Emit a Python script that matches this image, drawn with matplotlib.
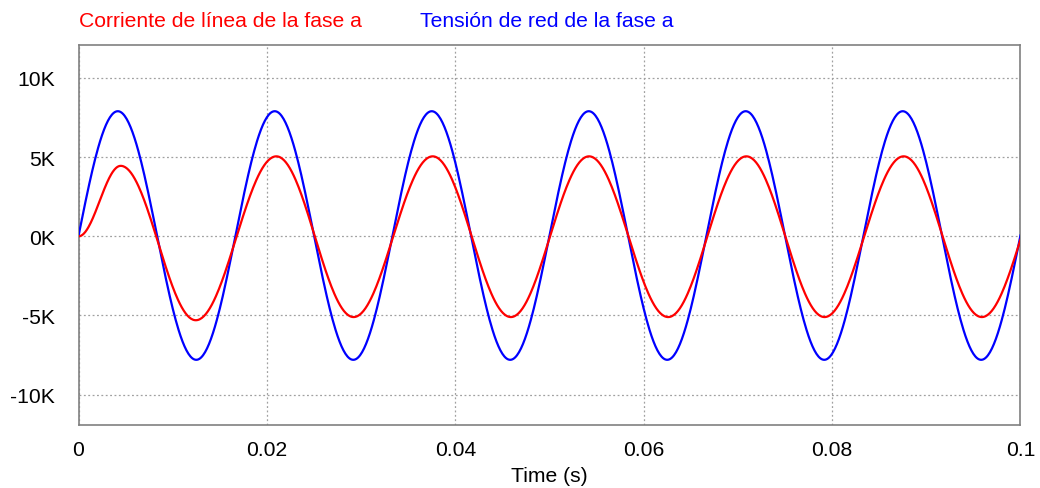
import numpy as np
import matplotlib
matplotlib.use("Agg")
import matplotlib.pyplot as plt

# ---- data (time in s, values in K) ----
# Extrema (peaks / troughs) of each waveform; first blue point is the
# trough just before t=0 so the wave starts at 0 with full slope.
volt_ext_t = [-0.00417, 0.00417, 0.0125, 0.02083, 0.02917, 0.0375, 0.04583,
              0.05417, 0.0625, 0.07083, 0.07917, 0.0875, 0.09583, 0.10417]
volt_ext_v = [-7.85, 7.9, -7.8, 7.9, -7.8, 7.9, -7.8,
              7.9, -7.8, 7.9, -7.8, 7.9, -7.8, 7.9]

curr_ext_t = [0.0, 0.00448, 0.01245, 0.0210, 0.0292, 0.0376, 0.0459,
              0.0542, 0.0626, 0.0709, 0.0792, 0.0876, 0.0959, 0.1043]
curr_ext_v = [0.0, 4.45, -5.30, 5.05, -5.10, 5.05, -5.10,
              5.05, -5.10, 5.05, -5.10, 5.05, -5.10, 5.05]

x_ticks = [0, 0.02, 0.04, 0.06, 0.08, 0.1]
x_tick_labels = ["0", "0.02", "0.04", "0.06", "0.08", "0.1"]
y_ticks = [-10, -5, 0, 5, 10]
y_tick_labels = ["-10K", "-5K", "0K", "5K", "10K"]

label_curr = "Corriente de línea de la fase a"
label_volt = "Tensión de red de la fase a"
x_label = "Time (s)"


def half_cosine(ext_t, ext_v, n=80):
    ts, vs = [], []
    for i in range(len(ext_t) - 1):
        t0, t1 = ext_t[i], ext_t[i + 1]
        a, b = ext_v[i], ext_v[i + 1]
        u = np.linspace(0, 1, n, endpoint=False)
        ts.append(t0 + (t1 - t0) * u)
        vs.append((a + b) / 2 + (a - b) / 2 * np.cos(np.pi * u))
    t = np.concatenate(ts)
    v = np.concatenate(vs)
    m = (t >= 0) & (t <= 0.1)
    return t[m], v[m]


plt.rcParams['font.family'] = ['Liberation Sans', 'DejaVu Sans']
FS = 15.2

fig = plt.figure(figsize=(10.4, 4.89), dpi=100)
ax = fig.add_axes([0.0755, 0.1294, 0.9057, 0.7771])

tv, vv = half_cosine(volt_ext_t, volt_ext_v)
tc, vc = half_cosine(curr_ext_t, curr_ext_v)
ax.plot(tv, vv, color="#0000ff", lw=1.6, zorder=3)
ax.plot(tc, vc, color="#ff0000", lw=1.6, zorder=3)

ax.set_xlim(0, 0.1)
ax.set_ylim(-11.9, 12.1)
ax.set_xticks(x_ticks)
ax.set_xticklabels(x_tick_labels)
ax.set_yticks(y_ticks)
ax.set_yticklabels(y_tick_labels)
ax.tick_params(axis="both", length=0, labelsize=FS, colors="black")
ax.tick_params(axis="y", pad=17)
ax.tick_params(axis="x", pad=11)
ax.grid(True, color="#a0a0a0", linestyle=(0, (1.5, 2)), linewidth=0.9)
for s in ax.spines.values():
    s.set_color("#808080")
    s.set_linewidth(1.2)

ax.set_xlabel(x_label, fontsize=FS, labelpad=5)

fig.text(0.0755, 0.957, label_curr, color="#ff0000", fontsize=FS,
         ha="left", va="center")
fig.text(0.404, 0.957, label_volt, color="#0000ff", fontsize=FS,
         ha="left", va="center")

fig.savefig("out.png", dpi=100, facecolor="white")
